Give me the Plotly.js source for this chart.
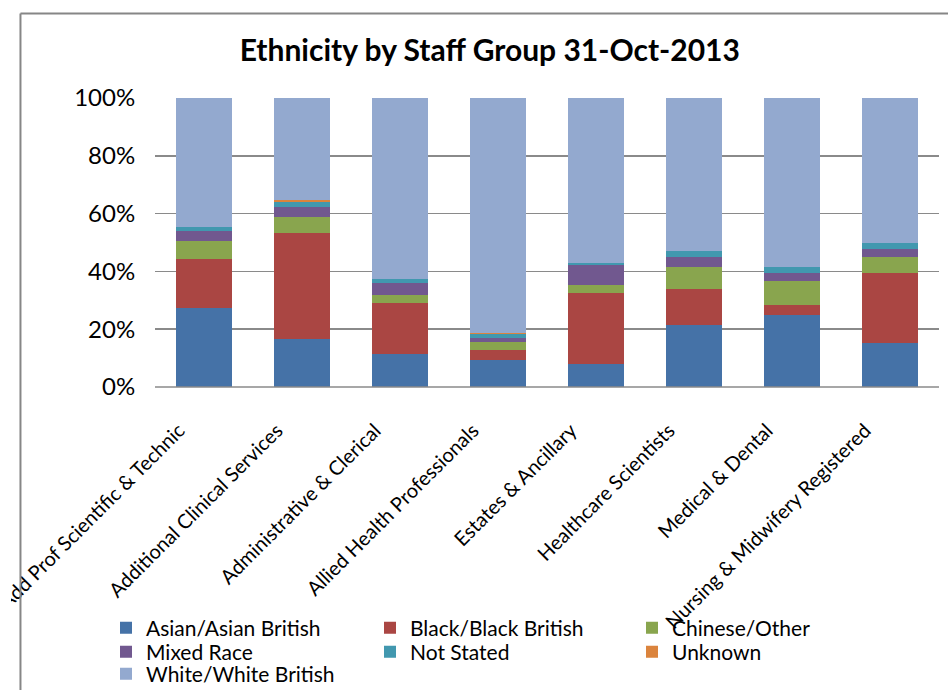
<!DOCTYPE html>
<html>
<head>
<meta charset="utf-8">
<script src="https://cdn.plot.ly/plotly-3.0.1.min.js"></script>
<style>
  html, body { margin: 0; padding: 0; background: #fff; }
  #chart { position: absolute; left: 11px; top: 0; width: 937px; height: 690px; overflow: hidden; }
</style>
</head>
<body>
<div id="chart"></div>
<script>
const categories = ['Add Prof Scientific & Technic','Additional Clinical Services','Administrative & Clerical','Allied Health Professionals','Estates & Ancillary','Healthcare Scientists','Medical & Dental','Nursing & Midwifery Registered'];
const asian     = [27.5, 16.5, 11.4,  9.3,  8.0, 21.3, 24.8, 15.1];
const black     = [16.7, 36.7, 17.6,  3.4, 24.4, 12.5,  3.5, 24.2];
const chinese   = [ 6.2,  5.5,  2.7,  2.8,  2.8,  7.6,  8.3,  5.6];
const mixed     = [ 3.5,  3.5,  4.2,  1.4,  6.9,  3.5,  2.7,  2.8];
const notStated = [ 1.4,  1.9,  1.4,  1.3,  0.8,  2.1,  2.1,  2.0];
const unknown   = [ 0.0,  0.5,  0.0,  0.4,  0.0,  0.0,  0.0,  0.0];
const white     = [44.7, 35.4, 62.7, 81.4, 57.1, 53.0, 58.6, 50.3];
const yTicks = [0, 20, 40, 60, 80, 100];
const yTickLabels = ['0%', '20%', '40%', '60%', '80%', '100%'];

const seriesNames  = ['Asian/Asian British','Black/Black British','Chinese/Other','Mixed Race','Not Stated','Unknown','White/White British'];
const seriesValues = [asian, black, chinese, mixed, notStated, unknown, white];
const seriesColors = ['#4572A7','#AA4643','#89A54E','#71588F','#4198AF','#DB843D','#93A9CF'];

// legend grid: 3 columns, rows top to bottom (pixel positions in the 937px-wide drawing)
const legendCols = [95, 359, 621];
const legendRows = [628, 652, 674];

const font = 'Lato, "Open Sans", sans-serif';
const legendIds = seriesNames.map((_, i) => i === 0 ? 'legend' : 'legend' + (i + 1));

const traces = seriesNames.map((name, i) => ({
  type: 'bar', name: name, x: categories, y: seriesValues[i], legend: legendIds[i],
  marker: { color: seriesColors[i], line: { width: 0 } }
}));

const frame = { color: '#868686', width: 2 };

const layout = {
  width: 937, height: 690,
  margin: { l: 144, r: 9, t: 98, b: 303, autoexpand: false },
  paper_bgcolor: '#fff', plot_bgcolor: '#fff',
  barmode: 'stack', barnorm: 'percent', bargap: 0.43,
  font: { family: font, color: '#000' },
  title: { text: 'Ethnicity by Staff Group 31-Oct-2013', x: 0.511, xref: 'container', xanchor: 'center',
           y: 0.9275, yref: 'container', yanchor: 'middle',
           font: { family: font, size: 30, weight: 'bold', color: '#000' } },
  xaxis: { type: 'category', tickangle: -45, tickfont: { size: 20, family: font }, showgrid: false,
           ticks: 'outside', ticklen: 23, tickcolor: 'rgba(0,0,0,0)', ticklabelshift: -25,
           showline: false, zeroline: false, fixedrange: true },
  yaxis: { range: [0, 100], tickvals: yTicks, ticktext: yTickLabels, tickfont: { size: 24, family: font },
           showgrid: true, gridcolor: '#8a8a8a', gridwidth: 1.5, zeroline: false, showline: false,
           ticks: 'outside', ticklen: 14, tickcolor: 'rgba(0,0,0,0)', fixedrange: true },
  showlegend: true,
  shapes: [
    { type: 'line', xref: 'paper', yref: 'paper', x0: -0.1716, x1: -0.1716, y0: 1.2924, y1: -1.1, line: frame },
    { type: 'line', xref: 'paper', yref: 'paper', x0: -0.1716, x1: 1.02, y0: 1.2924, y1: 1.2924, line: frame },
    { type: 'line', xref: 'paper', yref: 'paper', x0: 0, x1: 1, y0: 0, y1: 0, line: { color: '#8a8a8a', width: 1.5 } }
  ]
};

seriesNames.forEach((_, i) => {
  const col = i === 6 ? 0 : i % 3;
  const row = Math.floor(i / 3);
  layout[legendIds[i]] = {
    orientation: 'h', xref: 'container', yref: 'container',
    x: legendCols[col] / 937, xanchor: 'left', y: 1 - legendRows[row] / 690, yanchor: 'middle',
    font: { size: 21, family: font }, bgcolor: 'rgba(0,0,0,0)',
    itemclick: false, itemdoubleclick: false
  };
});

Plotly.newPlot('chart', traces, layout, { displayModeBar: false, staticPlot: true });
</script>
</body>
</html>
